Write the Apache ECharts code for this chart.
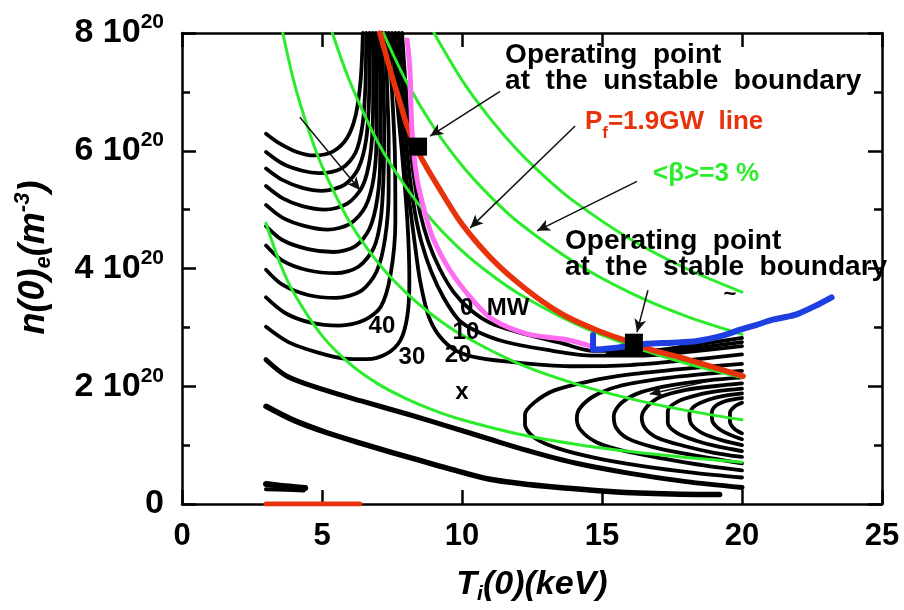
<!DOCTYPE html>
<html><head><meta charset="utf-8">
<script src="https://cdn.jsdelivr.net/npm/echarts@6/dist/echarts.min.js"></script>
<style>html,body{margin:0;padding:0;background:#fff}#c{width:904px;height:610px}</style>
</head><body><div id="c"></div>
<script>
// ---- axis ticks (n in units of 10^20 m^-3, T in keV) ----
const xTickVals = [0, 5, 10, 15, 20, 25];
const yTickVals = [0, 2, 4, 6, 8];

// ---- black P_aux contours, left U-shaped family ----
const u1 = [[3,6.29],[3.5,6.12],[4.1,5.98],[4.7,5.92],[5.4,5.99],[5.9,6.22],[6.2,6.6],[6.38,7.2],[6.46,8]];
const u2 = [[3,5.98],[3.6,5.78],[4.3,5.66],[4.9,5.62],[5.7,5.7],[6.2,5.97],[6.45,6.45],[6.55,7.1],[6.58,8]];
const u3 = [[3,5.7],[3.6,5.5],[4.3,5.37],[5.0,5.32],[5.8,5.42],[6.3,5.7],[6.58,6.2],[6.68,6.9],[6.7,8]];
const u4 = [[3,5.4],[3.6,5.19],[4.3,5.06],[5.1,5.0],[5.9,5.1],[6.45,5.4],[6.72,5.9],[6.82,6.6],[6.83,7.4],[6.81,8]];
const u5 = [[3,5.08],[3.6,4.86],[4.4,4.72],[5.2,4.66],[6.0,4.76],[6.55,5.05],[6.85,5.55],[6.95,6.3],[6.95,7.2],[6.92,8]];
const u6 = [[3,4.72],[3.6,4.48],[4.5,4.33],[5.4,4.28],[6.2,4.38],[6.7,4.68],[6.98,5.2],[7.08,5.9],[7.08,7],[7.04,8]];
const u7 = [[3,4.39],[3.6,4.13],[4.5,3.97],[5.5,3.92],[6.3,4.03],[6.85,4.35],[7.1,4.85],[7.2,5.6],[7.22,6.5],[7.18,7.3],[7.15,8]];
const u8 = [[3,3.98],[3.6,3.72],[4.5,3.55],[5.5,3.5],[6.4,3.62],[6.95,3.95],[7.25,4.5],[7.38,5.3],[7.38,6.2],[7.33,7],[7.27,8]];
const u9 = [[3,3.51],[3.7,3.24],[4.6,3.08],[5.6,3.03],[6.5,3.12],[7.1,3.35],[7.45,3.9],[7.62,4.8],[7.6,6],[7.5,7],[7.38,8]];
const u10 = [[3,3.01],[3.8,2.75],[4.8,2.58],[5.8,2.47],[6.6,2.46],[7.3,2.55],[7.8,2.78],[8.05,3.2],[8.12,3.8],[8.05,4.8],[7.85,6],[7.65,7],[7.5,8]];
// ---- contours coming down from the top and bending right (20, 10, 0 MW) ----
const c20 = [[7.62,8],[7.76,7],[7.88,6.2],[8.02,5.5],[8.17,4.95],[8.32,4.4],[8.5,3.8],[8.8,3.2],[9.2,2.85],[9.8,2.6],[10.6,2.48],[12,2.4],[14,2.34],[16,2.36],[18,2.44],[20,2.54]];
const c10 = [[7.74,8],[7.88,7],[8.0,6.2],[8.15,5.5],[8.32,4.95],[8.55,4.45],[8.9,3.95],[9.35,3.5],[9.9,3.12],[10.5,2.94],[11.5,2.76],[13,2.62],[14.7,2.52],[16.5,2.52],[18,2.58],[20,2.68]];
const c0 = [[7.86,8],[8.0,7],[8.12,6.2],[8.3,5.5],[8.5,4.95],[8.8,4.45],[9.2,4.0],[9.7,3.6],[10.3,3.3],[11,3.08],[12,2.92],[13.5,2.74],[14.7,2.6],[16.5,2.6],[18,2.68],[20,2.82]];
const cm = [[15.2,2.56],[16.5,2.56],[18,2.63],[20,2.75]];
// ---- right C-shaped family ----
const k1 = [[20,2.38],[18,2.3],[16,2.2],[14.5,2.08],[13.3,1.93],[12.6,1.73],[12.25,1.52],[12.25,1.35],[12.6,1.12],[13.4,0.95],[14.8,0.78],[16.5,0.64],[18.3,0.53],[20,0.45]];
const k2 = [[20,2.26],[18.5,2.2],[17,2.12],[15.6,2.0],[14.7,1.83],[14.2,1.62],[14.1,1.45],[14.25,1.25],[14.8,1.05],[15.8,0.9],[17.2,0.77],[18.7,0.65],[20,0.57]];
const k3 = [[20,2.15],[18.8,2.1],[17.5,2.02],[16.4,1.9],[15.7,1.72],[15.42,1.5],[15.5,1.3],[15.9,1.12],[16.8,0.97],[18,0.85],[20,0.69]];
const k4 = [[20,2.05],[19,2.0],[18,1.94],[17.1,1.82],[16.6,1.65],[16.42,1.47],[16.55,1.28],[17.0,1.12],[17.9,0.99],[19,0.87],[20,0.8]];
const k5 = [[20,1.96],[19.2,1.92],[18.4,1.85],[17.7,1.74],[17.35,1.58],[17.35,1.38],[17.7,1.2],[18.4,1.07],[19.2,0.97],[20,0.9]];
const k6 = [[20,1.88],[19.4,1.84],[18.8,1.77],[18.3,1.66],[18.12,1.52],[18.2,1.35],[18.6,1.2],[19.3,1.08],[20,1.0]];
const k7 = [[20,1.8],[19.5,1.76],[19.1,1.68],[18.92,1.55],[18.95,1.4],[19.2,1.27],[19.6,1.17],[20,1.1]];
const k8 = [[20,1.72],[19.75,1.66],[19.57,1.55],[19.57,1.4],[19.72,1.28],[20,1.2]];
// ---- lower contours ----
const l1 = [[3,2.45],[3.75,2.17],[5,1.95],[6.4,1.75],[8.1,1.52],[9.5,1.32],[11,1.1],[12.4,0.9],[14,0.7],[16,0.52],[18,0.38],[20,0.28]];
const l2 = [[3,1.66],[4,1.42],[5.18,1.21],[6.4,1.03],[7.54,0.87],[8.5,0.74],[9.46,0.61],[11,0.42],[13,0.3],[15.4,0.21],[17.5,0.17],[19.2,0.16]];
const stubA = [[3,0.34],[3.7,0.3],[4.4,0.27]];
const stubB = [[3,0.25],[3.7,0.24],[4.35,0.23]];
// ---- green <beta> lines ----
const g14 = [[3,4.77],[3.5,4.09],[4,3.58],[5,2.86],[6,2.38],[7,2.04],[8,1.79],[9,1.59],[10,1.43],[12,1.19],[14,1.02],[16,0.89],[18,0.79],[20,0.71]];
const g29 = [[3.6,8],[4,7.17],[4.5,6.38],[5,5.74],[6,4.78],[7,4.1],[8,3.59],[9,3.19],[10,2.87],[12,2.39],[14,2.05],[16,1.79],[18,1.59],[20,1.43]];
const g43 = [[5.37,8],[6,7.17],[7,6.14],[8,5.38],[9,4.78],[10,4.3],[11,3.91],[12,3.58],[14,3.07],[16,2.69],[18,2.39],[20,2.15]];
const g57 = [[7.19,8],[8,7.19],[9,6.39],[10,5.75],[11,5.23],[12,4.79],[14,4.11],[16,3.59],[18,3.19],[20,2.88]];
const g72 = [[9,8],[10,7.2],[11,6.55],[12,6.0],[13,5.54],[14,5.14],[16,4.5],[18,4.0],[20,3.6]];
// ---- coloured lines ----
const redLine = [[7.07,8.0],[7.3,7.6],[7.54,7.2],[7.8,6.8],[8.04,6.42],[8.5,5.92],[9.2,5.35],[9.93,4.8],[10.64,4.38],[11.3,4.05],[12.07,3.73],[12.9,3.43],[13.75,3.18],[14.93,2.93],[16.0,2.75],[16.9,2.6],[17.79,2.49],[19,2.32],[20.04,2.17]];
const redAxis = [[3,0],[6.35,0]];
const pinkLine = [[8.04,7.88],[8.14,7.38],[8.21,6.37],[8.39,5.53],[8.68,4.94],[8.96,4.52],[9.57,3.97],[10.39,3.46],[11.11,3.13],[12.32,2.89],[13.75,2.79],[14.68,2.67]];
const blueLine = [[14.68,2.87],[14.68,2.62],[15.6,2.66],[16.6,2.72],[17.5,2.74],[18.4,2.77],[19.3,2.86],[19.93,2.96],[20.5,3.04],[21.1,3.13],[21.6,3.18],[22.0,3.23],[22.6,3.36],[23.2,3.51]];
const opPoints = [[8.43,6.07],[16.14,2.74]];
const arrows = [
  [[11.36,7.01],[8.86,6.25]],
  [[14.04,6.42],[10.29,4.69]],
  [[16.25,5.48],[12.68,4.64]],
  [[16.64,3.63],[16.25,2.92]],
  [[4.21,6.57],[6.36,5.33]],
  [[18.75,2.08],[16.71,1.87]]
];

const F = '"Liberation Sans", Arial, Helvetica, sans-serif';
const BLACK = '#000', GREEN = '#2aec2a', RED = '#e8320c', PINK = '#ff6cf2', BLUE = '#1f3fe0';

function ln(data, color, width, z) {
  return {type:'line', data, showSymbol:false, symbol:'none', smooth:0.3, silent:true,
          lineStyle:{color, width, cap:'round', join:'round', opacity:1}, z, animation:false};
}

const series = [];
[u1,u2,u3,u4,u5,u6,u7,u8,u9,u10,c20,c10,c0,cm,k1,k2,k3,k4,k5,k6,k7,k8].forEach(d => series.push(ln(d, BLACK, 3.8, 2)));
series.push(ln(l1, BLACK, 5, 2));
series.push(ln(l2, BLACK, 5.5, 2));
series.push(ln(stubA, BLACK, 6, 2));
series.push(ln(stubB, BLACK, 4, 2));
[g14,g29,g43,g57,g72].forEach(d => series.push(ln(d, GREEN, 3, 3)));
series.push(ln(redLine, RED, 5.5, 4));
series.push(ln(redAxis, RED, 5, 4));
series.push(ln(pinkLine, PINK, 5, 5));
series.push(ln(blueLine, BLUE, 6, 5));
series.push({type:'scatter', data:opPoints, symbol:'rect', symbolSize:18, itemStyle:{color:'#000', opacity:1}, z:6, silent:true, animation:false});
series.push({type:'line', data:[], z:7, silent:true, animation:false,
  markLine:{silent:true, animation:false, symbol:['none','arrow'], symbolSize:[9,13],
    lineStyle:{color:'#111', width:1.5, type:'solid', opacity:1}, label:{show:false},
    data: arrows.map(a => [{coord:a[0]},{coord:a[1]}])}});

const axisCommon = {
  axisLine:{show:true, onZero:false, lineStyle:{color:'#000', width:2.5}},
  axisTick:{show:true, inside:true, length:14, lineStyle:{color:'#000', width:2.5}},
  splitLine:{show:false}
};

const option = {
  animation:false,
  backgroundColor:'#fff',
  grid:{left:182, right:22, top:33, bottom:101, containLabel:false},
  xAxis:[
    Object.assign({type:'value', min:xTickVals[0], max:xTickVals[xTickVals.length-1], interval:5, position:'bottom',
      axisLabel:{margin:17, fontSize:31, fontWeight:'bold', color:'#000', fontFamily:F},
      name:'{m|T}{sub|i}{m|(0)(keV)}', nameLocation:'middle', nameGap:60,
      nameTextStyle:{color:'#000', fontSize:34, fontStyle:'italic', fontWeight:'bold', fontFamily:F,
        rich:{m:{fontSize:34, fontStyle:'italic', fontWeight:'bold', fontFamily:F, color:'#000'},
              sub:{fontSize:21, fontStyle:'italic', fontWeight:'bold', fontFamily:F, color:'#000', padding:[20,0,0,0]}}}
    }, axisCommon),
    Object.assign({type:'value', min:0, max:25, interval:5, position:'top', axisLabel:{show:false}}, axisCommon)
  ],
  yAxis:[
    Object.assign({type:'value', min:yTickVals[0], max:yTickVals[yTickVals.length-1], interval:2, position:'left',
      minorTick:{show:true, splitNumber:2, length:8, lineStyle:{color:'#000', width:2.5}},
      axisLabel:{margin:18, color:'#000', fontFamily:F, fontWeight:'bold', fontSize:34,
        formatter: v => v === 0 ? '{a|0}' : '{a|' + v + ' 10}{s|20}',
        rich:{a:{fontSize:34, fontWeight:'bold', fontFamily:F, color:'#000'},
              s:{fontSize:21, fontWeight:'bold', fontFamily:F, color:'#000', padding:[0,0,21,0]}}},
      name:'{gap|}{m|n(0)}{sub|e}{m|(m}{sup|-3}{m|)}', nameLocation:'middle', nameGap:126,
      nameTextStyle:{color:'#000', fontSize:36, fontStyle:'italic', fontWeight:'bold', fontFamily:F,
        rich:{m:{fontSize:36, fontStyle:'italic', fontWeight:'bold', fontFamily:F, color:'#000'},
              sub:{fontSize:22, fontStyle:'italic', fontWeight:'bold', fontFamily:F, color:'#000', padding:[20,0,0,0]},
              sup:{fontSize:22, fontStyle:'italic', fontWeight:'bold', fontFamily:F, color:'#000', padding:[0,0,22,0]},
              gap:{width:22}}}
    }, axisCommon),
    Object.assign({type:'value', min:0, max:8, interval:2, position:'right', axisLabel:{show:false},
      minorTick:{show:true, splitNumber:2, length:8, lineStyle:{color:'#000', width:2.5}}}, axisCommon)
  ],
  series
};

const chart = echarts.init(document.getElementById('c'), null, {renderer:'canvas'});
chart.setOption(option);

// ---- text annotations, placed in data coordinates ----
const notes = [
  {t:'Operating  point', T:11.54, n:7.63, size:28, color:'#000', align:'left'},
  {t:'at  the  unstable  boundary', T:11.54, n:7.18, size:28, color:'#000', align:'left'},
  {t:'{a|P}{f|f}{a|=1.9GW  line}', T:14.39, n:6.49, size:26, color:RED, align:'left',
    rich:{a:{fontSize:26, fontWeight:'bold', fontFamily:F, fill:RED, color:RED},
          f:{fontSize:17, fontWeight:'bold', fontFamily:F, fill:RED, color:RED, padding:[22,0,0,0]}}},
  {t:'<β>=3 %', T:16.82, n:5.6, size:26, color:GREEN, align:'left'},
  {t:'Operating  point', T:13.68, n:4.47, size:28, color:'#000', align:'left'},
  {t:'at  the  stable  boundary', T:13.68, n:4.02, size:28, color:'#000', align:'left'},
  {t:'0  MW', T:9.93, n:3.33, size:24, color:'#000', align:'left'},
  {t:'10', T:10.14, n:2.92, size:24, color:'#000', align:'center'},
  {t:'20', T:9.86, n:2.52, size:24, color:'#000', align:'center'},
  {t:'30', T:8.21, n:2.49, size:24, color:'#000', align:'center'},
  {t:'40', T:7.14, n:3.01, size:24, color:'#000', align:'center'},
  {t:'x', T:10.0, n:1.9, size:24, color:'#000', align:'center'},
  {t:'~', T:19.57, n:3.55, size:22, color:'#000', align:'center'}
];
const graphics = notes.map(a => {
  const p = chart.convertToPixel({gridIndex:0}, [a.T, a.n]);
  const style = {text:a.t, x:0, y:0, fill:a.color, fontSize:a.size, fontWeight:'bold', fontFamily:F,
                 align:a.align, verticalAlign:'middle'};
  if (a.rich) style.rich = a.rich;
  return {type:'text', x:p[0], y:p[1], z:100, silent:true, style};
});
chart.setOption({graphic:graphics});
</script>
</body></html>
